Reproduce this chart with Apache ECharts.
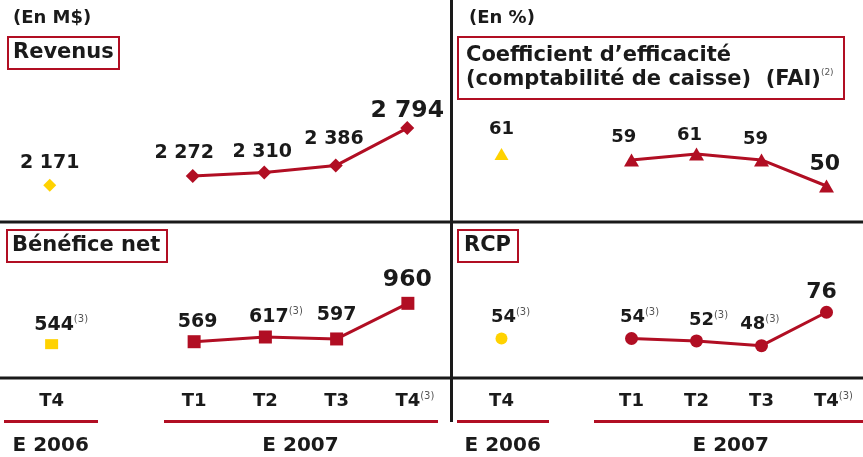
<!DOCTYPE html>
<html>
<head>
<meta charset="utf-8">
<script src="https://cdn.jsdelivr.net/npm/echarts@6/dist/echarts.min.js"></script>
<style>
  html, body { margin: 0; padding: 0; background: #fff; }
  #chart { width: 863px; height: 457px; }
</style>
</head>
<body>
<div id="chart"></div>
<script>
// categories: one quarter of 2006, a blank gap, four quarters of 2007
const quarters = ['T4', '', 'T1', 'T2', 'T3', 'T4'];

const revenus2006 = [2171];
const revenus2007 = [2272, 2310, 2386, 2794];
const efficacite2006 = [61];
const efficacite2007 = [59, 61, 59, 50];
const benefice2006 = [544];
const benefice2007 = [569, 617, 597, 960];
const rcp2006 = [54];
const rcp2007 = [54, 52, 48, 76];

// which values carry the note (3)
const beneficeNotes2006 = [true];
const beneficeNotes2007 = [false, true, false, false];
const rcpNotes2006 = [true];
const rcpNotes2007 = [true, true, true, false];

// label nudges [dx, dy] from the marker, per point (layout only)
const revenusShift = [[0, -22.5], [-8.5, -22.7], [-2, -20.3], [-1.7, -26.7], [0, -17]];
const efficaciteShift = [[0, -25], [-7.7, -22.5], [-7, -18.7], [-6, -21], [-1.7, -22]];
const beneficeShift = [[2.5, -19.4], [3.5, -20], [3.6, -20.3], [0, -24], [-0.5, -23.6]];
const rcpShift = [[2, -21], [1, -21.3], [5, -20.5], [-8.7, -21], [-5, -19.8]];

const RED = '#b10e23';
const GOLD = '#ffd200';
const INK = '#1a1a1a';
const FONT = '"DejaVu Sans", Verdana, sans-serif';

const supStyle = { fontSize: 10, fontWeight: 'normal', color: '#555', fontFamily: FONT, lineHeight: 4, verticalAlign: 'top' };

function makeRich(small, big) {
  return {
    n: { fontSize: small, fontWeight: 'bold', color: INK, fontFamily: FONT, lineHeight: 20 },
    big: { fontSize: big, fontWeight: 'bold', color: INK, fontFamily: FONT, lineHeight: 24 },
    sup: supStyle,
    pad: { width: 14, fontSize: 10 }
  };
}

function fmt(v) {
  return String(v).replace(/\B(?=(\d{3})+(?!\d))/g, ' ');
}

function labelText(v, note, big) {
  const key = big ? 'big' : 'n';
  return note ? `{pad| }{${key}|${fmt(v)}}{sup|(3)}` : `{${key}|${fmt(v)}}`;
}

function panelSeries(idx, v06, v07, notes06, notes07, shift, shape) {
  const start07 = quarters.length - v07.length;
  const rich = makeRich(shape.font, shape.bigFont);
  const data06 = quarters.map((q, k) => (k < v06.length ? {
    value: v06[k],
    label: { offset: shift[k] }
  } : '-'));
  const data07 = quarters.map((q, k) => (k >= start07 ? {
    value: v07[k - start07],
    label: { offset: shift[v06.length + k - start07] }
  } : '-'));
  const base = {
    type: 'line', xAxisIndex: idx, yAxisIndex: idx,
    symbol: shape.symbol, animation: false, silent: true
  };
  return [
    Object.assign({}, base, {
      data: data06,
      symbolSize: shape.size06,
      itemStyle: { color: GOLD },
      lineStyle: { width: 0 },
      label: {
        show: true, position: 'inside', color: INK, rich,
        formatter: p => labelText(p.value, notes06 && notes06[p.dataIndex], false)
      }
    }),
    Object.assign({}, base, {
      data: data07,
      symbolSize: shape.size07,
      itemStyle: { color: RED },
      lineStyle: { color: RED, width: 3 },
      label: {
        show: true, position: 'inside', color: INK, rich,
        formatter: p => {
          const i = p.dataIndex - start07;
          return labelText(p.value, notes07 && notes07[i], i === v07.length - 1);
        }
      }
    })
  ];
}

const grids = [
  { left: 14, width: 429, top: 100, height: 101 },
  { left: 469, width: 390, top: 128, height: 87 },
  { left: 16, width: 427.5, top: 299.4, height: 58.9 },
  { left: 469, width: 390, top: 307.5, height: 47.7 }
].map(g => Object.assign({ outerBoundsMode: 'none', containLabel: false }, g));

const yRanges = [[2000, 3100], [40, 70], [400, 1000], [40, 80]];

const axisLabelMargins = [0, 0, 32.7, 35.8];

const xAxes = grids.map((g, i) => {
  const bottom = i >= 2;
  return {
    type: 'category', gridIndex: i, data: quarters, boundaryGap: true,
    show: bottom,
    axisLine: { show: false }, axisTick: { show: false }, splitLine: { show: false },
    axisLabel: {
      show: bottom, interval: 0, margin: axisLabelMargins[i],
      fontSize: 18, fontWeight: 'bold', color: INK, fontFamily: FONT,
      rich: {
        sup: supStyle,
        pad: { width: 14, fontSize: 10 },
        t: { fontSize: 18, fontWeight: 'bold', color: INK, fontFamily: FONT, lineHeight: 20 }
      },
      formatter: (v, k) => (k === quarters.length - 1 ? `{pad| }{t|${v}}{sup|(3)}` : `{t|${v}}`)
    }
  };
});

const yAxes = yRanges.map((r, i) => ({
  type: 'value', gridIndex: i, min: r[0], max: r[1], show: false
}));

const series = [].concat(
  panelSeries(0, revenus2006, revenus2007, null, null, revenusShift,
    { symbol: 'diamond', size06: 13, size07: 14, font: 19, bigFont: 23.5 }),
  panelSeries(1, efficacite2006, efficacite2007, null, null, efficaciteShift,
    { symbol: 'triangle', size06: [14, 12], size07: [15, 13], font: 18, bigFont: 22 }),
  panelSeries(2, benefice2006, benefice2007, beneficeNotes2006, beneficeNotes2007, beneficeShift,
    { symbol: 'rect', size06: [13, 10], size07: 13, font: 19, bigFont: 23.5 }),
  panelSeries(3, rcp2006, rcp2007, rcpNotes2006, rcpNotes2007, rcpShift,
    { symbol: 'circle', size06: 12, size07: 13, font: 18, bigFont: 22 })
);

const titles = [
  { text: 'Revenus', left: 8, top: 37, padding: [5, 6, 5, 5] },
  { text: 'Coefficient d’efficacité\n(comptabilité de caisse)  (FAI){sup|(2)}', left: 458, top: 37,
    padding: [7, 11, 7, 8], lh: 24 },
  { text: 'Bénéfice net', left: 7, top: 230, padding: [5, 7, 5, 5] },
  { text: 'RCP', left: 458, top: 230, padding: [5, 7, 5, 6] }
].map(t => ({
  text: t.text, left: t.left, top: t.top, padding: t.padding,
  borderColor: RED, borderWidth: 2,
  textStyle: {
    fontSize: 21, fontWeight: 'bold', color: INK, fontFamily: FONT,
    lineHeight: t.lh || 22,
    rich: { sup: Object.assign({}, supStyle, { fontSize: 9 }) }
  }
}));

function hline(x1, x2, y, color) {
  return { type: 'line', silent: true, shape: { x1, y1: y, x2, y2: y }, style: { stroke: color, lineWidth: 3 } };
}
function label(text, x, y, size, align) {
  return {
    type: 'text', silent: true, x, y,
    style: {
      text, font: `bold ${size}px ${FONT}`, fill: INK,
      align, textAlign: align, verticalAlign: 'middle', textVerticalAlign: 'middle'
    }
  };
}

const graphic = [
  hline(0, 863, 222, INK),
  hline(0, 863, 378, INK),
  { type: 'line', silent: true, shape: { x1: 451.5, y1: 0, x2: 451.5, y2: 422 }, style: { stroke: INK, lineWidth: 3 } },
  hline(4, 98, 421.5, RED),
  hline(164, 438, 421.5, RED),
  hline(457, 549, 421.5, RED),
  hline(594, 863, 421.5, RED),
  label('(En M$)', 13, 18, 18, 'left'),
  label('(En %)', 469, 18, 18, 'left'),
  label('E 2006', 50.7, 446, 20, 'center'),
  label('E 2007', 300.5, 446, 20, 'center'),
  label('E 2006', 502.7, 446, 20, 'center'),
  label('E 2007', 730.7, 446, 20, 'center')
];

const chart = echarts.init(document.getElementById('chart'));
chart.setOption({
  animation: false,
  backgroundColor: '#fff',
  title: titles,
  grid: grids,
  xAxis: xAxes,
  yAxis: yAxes,
  series,
  graphic
});
</script>
</body>
</html>
